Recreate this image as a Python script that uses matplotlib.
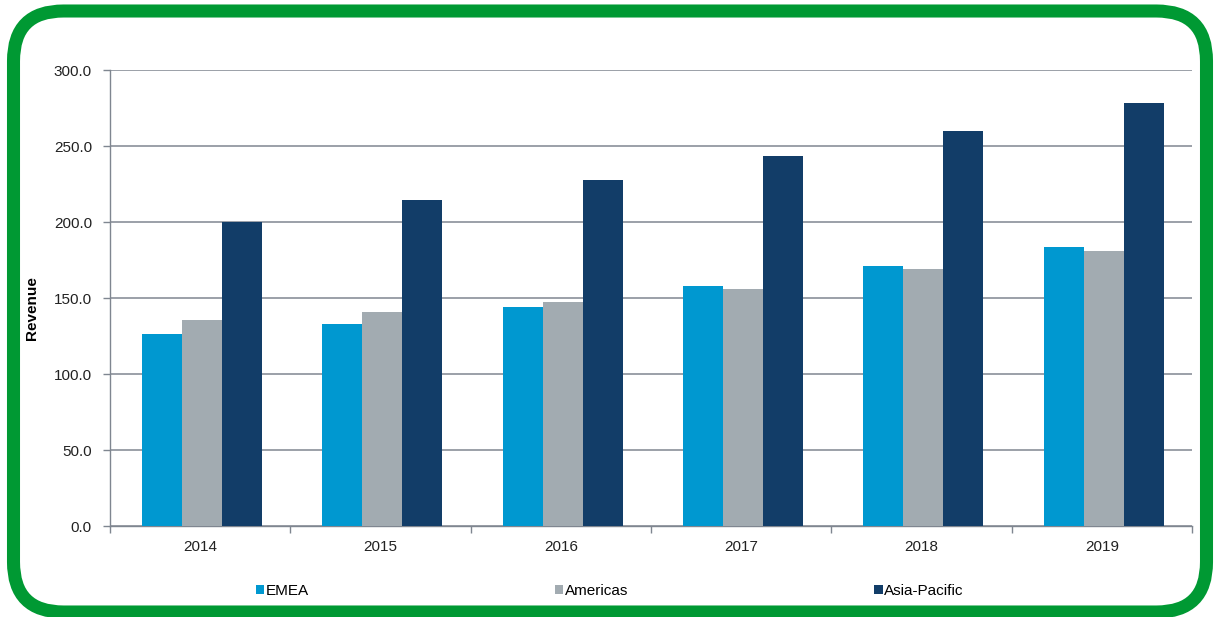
import matplotlib
matplotlib.use("Agg")
import matplotlib.pyplot as plt
from matplotlib.patches import FancyBboxPatch, Patch
import numpy as np

plt.rcParams['font.family'] = ['Liberation Sans', 'DejaVu Sans']

years = ['2014', '2015', '2016', '2017', '2018', '2019']
series_names = ['EMEA', 'Americas', 'Asia-Pacific']
emea = [126.3, 132.7, 144.0, 157.7, 171.0, 183.8]
americas = [135.5, 140.8, 147.4, 155.7, 169.0, 181.1]
asia_pacific = [200.0, 214.3, 227.6, 243.2, 260.0, 278.3]
colors = ['#0098d0', '#a2abb1', '#123d68']

W, H = 1218, 617
fig = plt.figure(figsize=(W / 100, H / 100), dpi=100)
ax = fig.add_axes([110 / W, 1 - 526 / H, (1192 - 110) / W, (526 - 70) / H])

x = np.arange(len(years))
bw = 0.222
for i, (vals, col) in enumerate(zip([emea, americas, asia_pacific], colors)):
    ax.bar(x + (i - 1) * bw + 0.01, vals, width=bw, color=col, zorder=3)

ax.set_xlim(-0.5, len(years) - 0.5)
ax.set_ylim(0, 300)
ax.set_yticks(np.arange(0, 301, 50))
ax.set_yticklabels([f'{v:.1f}' for v in np.arange(0, 301, 50)], fontsize=11, color='#222222')
ax.set_xticks(x)
ax.set_xticklabels(years, fontsize=11, color='#222222')
ax.set_xticks(np.arange(-0.5, len(years), 1), minor=True)
ax.tick_params(axis='x', which='major', length=0, pad=10)
ax.tick_params(axis='x', which='minor', length=5, color='#7f8690', width=1)
ax.tick_params(axis='y', length=5, color='#7f8690', width=1, pad=8)

ax.grid(axis='y', color='#8a9099', linewidth=1.2, zorder=0)
for s in ['top', 'right']:
    ax.spines[s].set_visible(False)
for s in ['left', 'bottom']:
    ax.spines[s].set_color('#7f8690')
    ax.spines[s].set_linewidth(1)

fig.text(32 / W, 1 - 308 / H, 'Revenue', rotation=90, fontsize=11,
         fontweight='bold', ha='center', va='center')

handles = [Patch(facecolor=c, edgecolor='none') for c in colors]
fig.legend(handles, series_names, loc='center left', bbox_to_anchor=(256 / W, 1 - 591 / H),
           ncol=3, frameon=False, fontsize=11, handlelength=0.55, handleheight=0.55,
           handletextpad=0.1, columnspacing=16.1, borderaxespad=0, borderpad=0)

# rounded green frame around the chart
border = FancyBboxPatch((13.5 / 100, (H - 612) / 100), (1206.5 - 13.5) / 100, (612 - 11) / 100,
                        boxstyle='round,pad=0,rounding_size=0.5',
                        transform=fig.dpi_scale_trans, facecolor='none',
                        edgecolor='#009933', linewidth=9.4, zorder=10)
fig.patches.append(border)

fig.savefig('out.png', dpi=100)
